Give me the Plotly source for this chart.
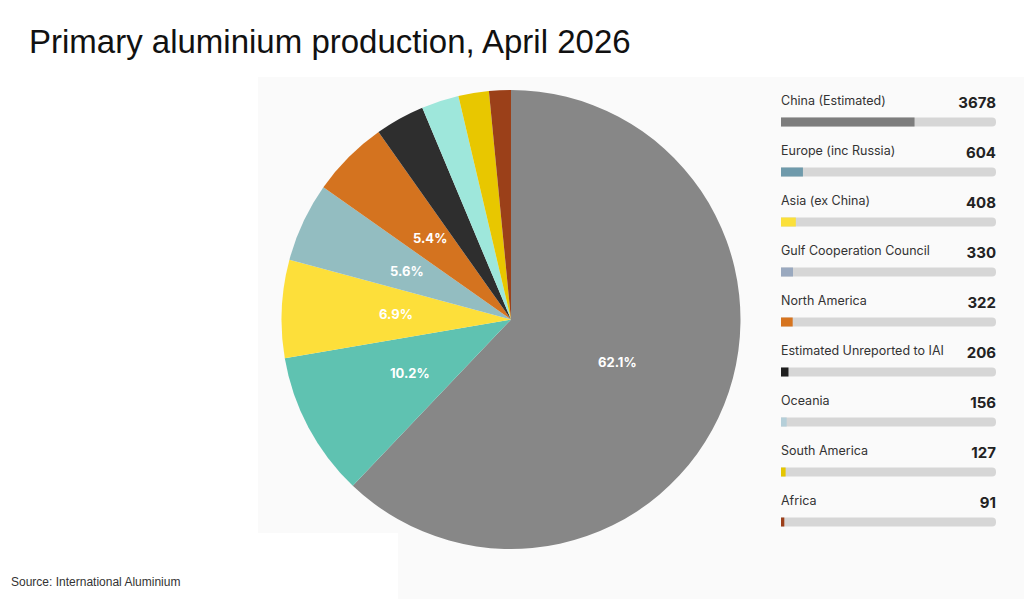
import math
import plotly.graph_objects as go

regions = ["China (Estimated)", "Europe (inc Russia)", "Asia (ex China)",
           "Gulf Cooperation Council", "North America", "Estimated Unreported to IAI",
           "Oceania", "South America", "Africa"]
production = [3678, 604, 408, 330, 322, 206, 156, 127, 91]
pie_colors = ["#878787", "#5fc2b1", "#fddf3a", "#93bdc1", "#d4731f",
              "#2e2e2e", "#9ee7db", "#e8c700", "#9b4019"]
bar_colors = ["#7d7d7d", "#6f9aab", "#fbe03a", "#9aa9bf", "#d6741f",
              "#1f1f1f", "#b5cfd9", "#e5c600", "#9c3f1a"]

total = sum(production)
W, H = 1024, 599
idx = list(range(len(regions)))

# pie geometry (pixels)
PCX, PCY, PR = 511.0, 319.5, 229.5
LABEL_R = 0.5 * PR

fig = go.Figure()

fig.add_trace(go.Pie(
    labels=regions, values=production, sort=False, direction="clockwise", rotation=0,
    marker=dict(colors=pie_colors, line=dict(width=0)),
    textinfo="none",
    domain=dict(x=[(PCX - PR) / W, (PCX + PR) / W], y=[1 - (PCY + PR) / H, 1 - (PCY - PR) / H]),
    showlegend=False, hoverinfo="label+value+percent",
))

# percentage labels placed at half radius along each slice's mid angle
annotations = []
cum = 0.0
for v in production:
    share = v / total
    mid = cum + share / 2
    cum += share
    if share < 0.05:
        continue
    th = 2 * math.pi * mid
    px = PCX + LABEL_R * math.sin(th)
    py = PCY - LABEL_R * math.cos(th)
    annotations.append(dict(
        text=f"{share * 100:.1f}%", xref="paper", yref="paper", x=px / W, y=1 - py / H,
        xanchor="center", yanchor="middle", showarrow=False,
        font=dict(family="Inter, Roboto, sans-serif", size=13, color="white", weight="bold")))

# background (track) bars
fig.add_trace(go.Bar(
    x=[total] * len(regions), y=idx, orientation="h", width=0.18,
    marker=dict(color="#d6d6d6", line=dict(width=0)),
    xaxis="x", yaxis="y", showlegend=False, hoverinfo="skip",
))
# value bars
fig.add_trace(go.Bar(
    x=production, y=idx, orientation="h", width=0.18,
    marker=dict(color=bar_colors, line=dict(width=0)),
    xaxis="x", yaxis="y", showlegend=False,
    customdata=regions, hovertemplate="%{customdata}: %{x}<extra></extra>",
))
# region labels
fig.add_trace(go.Scatter(
    x=[0] * len(regions), y=[i - 0.40 for i in idx], mode="text", text=regions,
    textposition="middle right", cliponaxis=False,
    textfont=dict(family="Inter, Roboto, sans-serif", size=12.5, color="#333333"),
    xaxis="x", yaxis="y", showlegend=False, hoverinfo="skip",
))
# values
fig.add_trace(go.Scatter(
    x=[total] * len(regions), y=[i - 0.35 for i in idx], mode="text",
    text=[str(v) for v in production],
    textposition="middle left", cliponaxis=False,
    textfont=dict(family="Inter, Roboto, sans-serif", size=15, color="#222222", weight="bold"),
    xaxis="x", yaxis="y", showlegend=False, hoverinfo="skip",
))

annotations += [
    dict(text="Primary aluminium production, April 2026", xref="paper", yref="paper",
         x=27 / W, y=1 - 42 / H, xanchor="left", yanchor="middle", showarrow=False,
         font=dict(family="Liberation Sans, Arial, sans-serif", size=33, color="#111111")),
    dict(text="Source: International Aluminium", xref="paper", yref="paper",
         x=9 / W, y=1 - 582 / H, xanchor="left", yanchor="middle", showarrow=False,
         font=dict(family="Liberation Sans, Arial, sans-serif", size=12, color="#333333")),
]

fig.update_layout(
    width=W, height=H, margin=dict(l=0, r=0, t=0, b=0),
    paper_bgcolor="white", plot_bgcolor="rgba(0,0,0,0)",
    barmode="overlay", barcornerradius=4.5,
    xaxis=dict(domain=[781 / W, 996 / W], range=[0, total], visible=False, fixedrange=True),
    yaxis=dict(domain=[1 - 547 / H, 1 - 72 / H], range=[8.5, -1.0], visible=False, fixedrange=True),
    shapes=[
        dict(type="rect", xref="paper", yref="paper", x0=258 / W, x1=1, y0=1 - 533 / H, y1=1 - 77 / H,
             fillcolor="#fafafa", line=dict(width=0), layer="below"),
        dict(type="rect", xref="paper", yref="paper", x0=398 / W, x1=1, y0=0, y1=1 - 533 / H,
             fillcolor="#fafafa", line=dict(width=0), layer="below"),
    ],
    annotations=annotations,
)

fig.write_html("out.html")
